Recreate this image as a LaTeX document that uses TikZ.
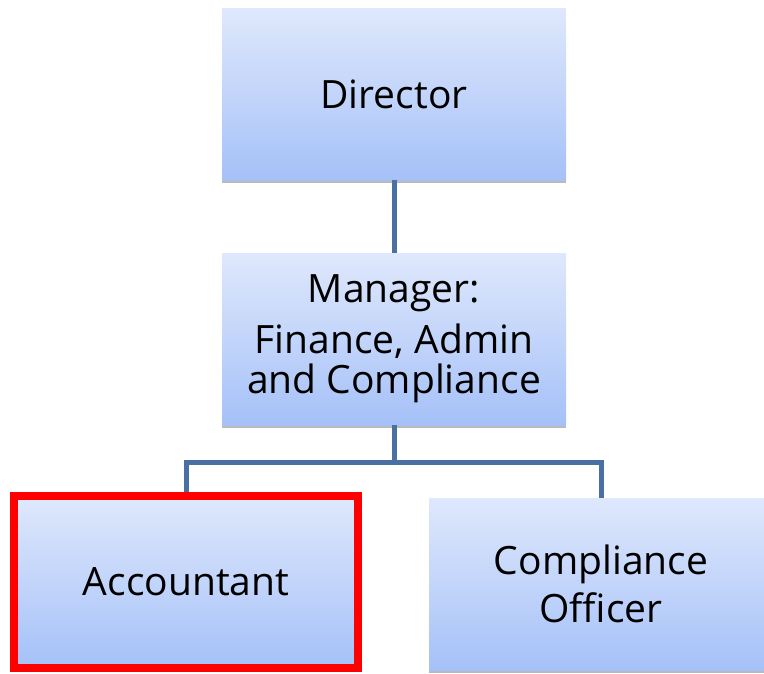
\documentclass[tikz,border=0pt]{standalone}
\usepackage{fontspec}
\setmainfont{Open Sans}
\usetikzlibrary{positioning,shadows}

\definecolor{boxtop}{HTML}{DFE8FC}
\definecolor{boxbottom}{HTML}{A5C1F8}
\definecolor{linkblue}{HTML}{4A6FA3}
\definecolor{markred}{HTML}{FF0000}

\tikzset{
  post/.style={rectangle, minimum width=344pt, minimum height=172pt, inner sep=0pt,
    top color=boxtop, bottom color=boxbottom, align=center,
    font=\fontsize{39}{40}\selectfont,
    drop shadow={shadow xshift=0pt, shadow yshift=-3pt, opacity=0.45, fill=black!60}},
  link/.style={draw=linkblue, line width=5pt},
  marked/.style={draw=markred, line width=8pt}
}

\begin{document}
\begin{tikzpicture}[x=1pt,y=-1pt,node distance=245pt,on grid]
  \useasboundingbox (0,0) rectangle (764,673);

  \node[post]        (dir)                              at (394,94) {Director};
  \node[post]        (mgr) [below=of dir]               {Manager:\\[11pt]Finance, Admin\\and Compliance};
  \node[post,marked] (acc) [below left=243pt and 208pt of mgr]  {Accountant};
  \node[post,font=\fontsize{39}{48}\selectfont]
                     (off) [below right=245pt and 207pt of mgr] {Compliance\\Officer};

  \coordinate (split) at (394,462);

  \draw[link] (dir) -- (mgr);
  \draw[link] (mgr) -- (split);
  \draw[link] (acc.north) |- (split) -| (off.north);
\end{tikzpicture}
\end{document}
